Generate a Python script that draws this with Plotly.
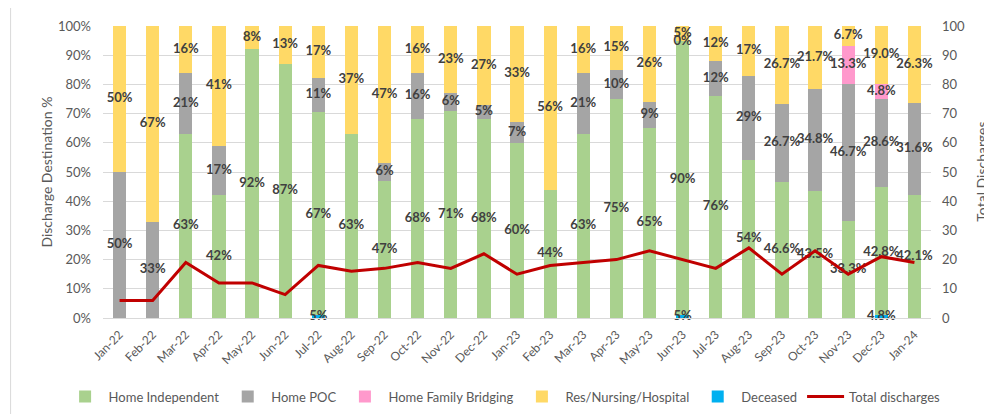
import plotly.graph_objects as go

months = ["Jan-22","Feb-22","Mar-22","Apr-22","May-22","Jun-22","Jul-22","Aug-22","Sep-22",
          "Oct-22","Nov-22","Dec-22","Jan-23","Feb-23","Mar-23","Apr-23","May-23","Jun-23",
          "Jul-23","Aug-23","Sep-23","Oct-23","Nov-23","Dec-23","Jan-24"]

home_independent = [None, None, 63, 42, 92, 87, 67, 63, 47, 68, 71, 68, 60, 44, 63, 75, 65, 90,
                    76, 54, 46.6, 43.5, 33.3, 42.8, 42.1]
home_poc = [50, 33, 21, 17, None, None, 11, None, 6, 16, 6, 5, 7, None, 21, 10, 9, 0,
            12, 29, 26.7, 34.8, 46.7, 28.6, 31.6]
home_family_bridging = [None]*22 + [13.3, 4.8, None]
res_nursing = [50, 67, 16, 41, 8, 13, 17, 37, 47, 16, 23, 27, 33, 56, 16, 15, 26, 5,
               12, 17, 26.7, 21.7, 6.7, 19.0, 26.3]
deceased_pct = [None]*6 + [5] + [None]*10 + [5] + [None]*5 + [4.8, None]
deceased_count = [0]*6 + [1] + [0]*10 + [1] + [0]*5 + [1, 0]
total_discharges = [6, 6, 19, 12, 12, 8, 18, 16, 17, 19, 17, 22, 15, 18, 19, 20, 23, 20,
                    17, 24, 15, 23, 15, 21, 19]

decimal_from = 20  # Sep-23 onwards labels shown with one decimal

FONT = "Lato, 'Open Sans', sans-serif"
GREY_TXT = "#595959"
LABEL_TXT = "#404040"

# page offset (browser default body margin)
OFF = 8
PL, PW, PT, PH = 103.4, 827.9, 25.7, 292.6  # plot area in page pixels

def px(xp):
    return (xp - PL) / PW

def py(yp):
    return 1 - (yp - PT) / PH

series = [
    ("Home Independent", home_independent, "#A9D18E"),
    ("Home POC", home_poc, "#A5A5A5"),
    ("Home Family Bridging", home_family_bridging, "#FF99CC"),
    ("Res/Nursing/Hospital", res_nursing, "#FFD966"),
]

def v(x):
    return 0 if x is None else x

sums = [sum(v(s[1][i]) for s in series) for i in range(len(months))]

def fmt(val, i):
    if i >= decimal_from:
        return f"{val:.1f}%"
    return f"{val:.0f}%"

fig = go.Figure()
lab_x, lab_y, lab_t = [], [], []
cum = [0.0]*len(months)
for name, vals, color in series:
    heights = [v(vals[i]) / sums[i] * 100 for i in range(len(months))]
    fig.add_trace(go.Bar(x=months, y=heights, name=name, marker=dict(color=color, line=dict(width=0)),
                         hoverinfo="skip"))
    for i, val in enumerate(vals):
        if val is not None:
            lab_x.append(months[i])
            lab_y.append(cum[i] + heights[i] / 2)
            lab_t.append(fmt(val, i))
    cum = [cum[i] + heights[i] for i in range(len(months))]

fig.add_trace(go.Bar(x=months, y=deceased_count, name="Deceased", yaxis="y2",
                     marker=dict(color="#00B0F0", line=dict(width=0)), hoverinfo="skip"))

fig.add_trace(go.Scatter(x=months, y=total_discharges, name="Total discharges", yaxis="y2",
                         mode="lines", line=dict(color="#C00000", width=3), hoverinfo="skip"))

fig.add_trace(go.Scatter(x=lab_x, y=lab_y, text=lab_t, mode="text", showlegend=False,
                         textfont=dict(family=FONT, size=13, color=LABEL_TXT, weight="bold"),
                         cliponaxis=False, hoverinfo="skip"))

dec_x = [months[i] for i in range(len(months)) if deceased_pct[i] is not None]
dec_y = [deceased_count[i] / 2 for i in range(len(months)) if deceased_pct[i] is not None]
dec_t = [fmt(deceased_pct[i], i) for i in range(len(months)) if deceased_pct[i] is not None]
fig.add_trace(go.Scatter(x=dec_x, y=dec_y, text=dec_t, mode="text", yaxis="y2", showlegend=False,
                         textfont=dict(family=FONT, size=13, color=LABEL_TXT, weight="bold"),
                         cliponaxis=False, hoverinfo="skip"))

W, H = 992 - OFF, 414 - OFF
ml = PL - OFF
mt = PT - OFF
mr = W - (ml + PW)
mb = H - (mt + PH)

fig.update_layout(
    width=W, height=H,
    margin=dict(l=ml, r=mr, t=mt, b=mb, autoexpand=False, pad=0),
    paper_bgcolor="white", plot_bgcolor="white",
    barmode="stack", bargap=0.6,
    font=dict(family=FONT, size=13, color=GREY_TXT),
    xaxis=dict(type="category", range=[-0.5, len(months) - 0.5], tickangle=-45,
               tickfont=dict(size=12, color=GREY_TXT), ticklabelstandoff=4,
               showgrid=False, showline=True, linecolor="#D9D9D9", ticks=""),
    yaxis=dict(range=[0, 100], dtick=10, ticksuffix="%", showgrid=True, gridcolor="#D9D9D9",
               gridwidth=1, zeroline=False, tickfont=dict(size=13, color=GREY_TXT),
               ticklabelstandoff=11),
    yaxis2=dict(range=[0, 100], dtick=10, overlaying="y", side="right", showgrid=False,
                zeroline=False, tickfont=dict(size=13, color=GREY_TXT), ticklabelstandoff=10),
    legend=dict(orientation="h", x=px(62), xanchor="left", y=py(397), yanchor="middle",
                font=dict(size=13, color=GREY_TXT), traceorder="normal",
                itemwidth=37, tracegroupgap=0),
    annotations=[
        dict(text="Discharge Destination %", xref="paper", yref="paper",
             x=px(46), y=py(172), textangle=-90, showarrow=False,
             font=dict(size=14, color=GREY_TXT), xanchor="center", yanchor="middle"),
        dict(text="Total Discharges", xref="paper", yref="paper",
             x=px(981), y=py(172), textangle=-90, showarrow=False,
             font=dict(size=14, color=GREY_TXT), xanchor="center", yanchor="middle"),
    ],
    shapes=[dict(type="rect", xref="paper", yref="paper", x0=px(11), x1=px(1010),
                 y0=py(430), y1=py(7), line=dict(color="#D9D9D9", width=1),
                 fillcolor="rgba(0,0,0,0)", layer="below")],
)

fig.write_html("out.html")
